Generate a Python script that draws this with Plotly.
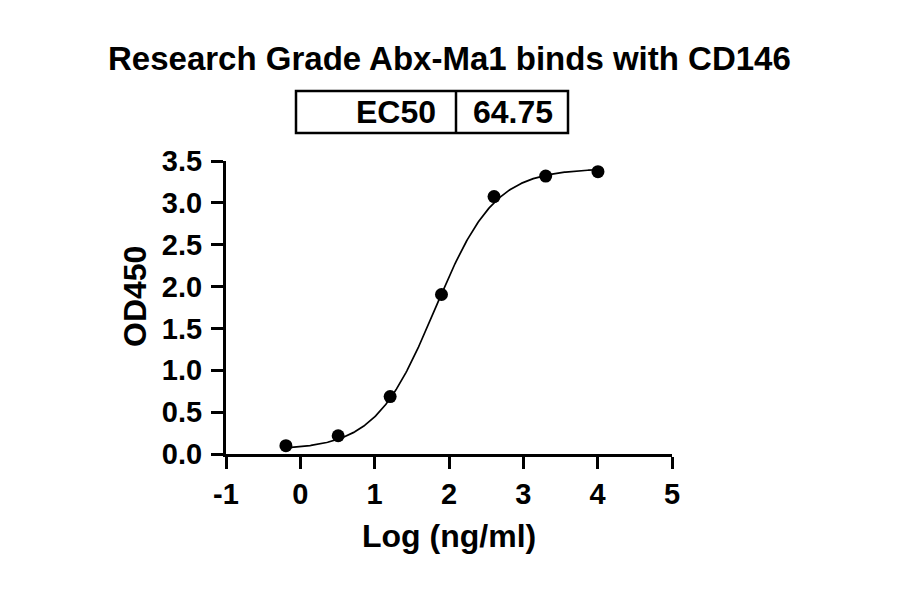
import numpy as np
import plotly.graph_objects as go

# ---- data ----
log_conc = [-0.194, 0.509, 1.208, 1.899, 2.606, 3.301, 4.004]
od450 = [0.099, 0.218, 0.686, 1.905, 3.075, 3.320, 3.373]

# 4PL fit parameters
ec50 = 64.75
fit_bottom = 0.05
fit_top = 3.41
fit_hill = 1.08

x_tickvals = [-1, 0, 1, 2, 3, 4, 5]
x_ticktext = ["-1", "0", "1", "2", "3", "4", "5"]
y_tickvals = [0.0, 0.5, 1.0, 1.5, 2.0, 2.5, 3.0, 3.5]
y_ticktext = ["0.0", "0.5", "1.0", "1.5", "2.0", "2.5", "3.0", "3.5"]

title_text = "Research Grade Abx-Ma1 binds with CD146"
table_label = "EC50"
table_value = "64.75"
x_title = "Log (ng/ml)"
y_title = "OD450"

# ---- fitted curve ----
log_ec50 = np.log10(ec50)
xc = np.linspace(min(log_conc), max(log_conc), 300)
yc = fit_bottom + (fit_top - fit_bottom) / (1 + 10 ** ((log_ec50 - xc) * fit_hill))

FONT = "Liberation Sans, Arial, Helvetica, sans-serif"

# layout geometry (pixels, in reference-image coordinates)
W, H = 900, 594
OFF = 8  # page body offset
L, R, T, B = 226, 672, 161, 454
def px(p):
    return (p - L) / (R - L)
def py(p):
    return (B - p) / (B - T)

fig = go.Figure()
fig.add_trace(go.Scatter(x=xc, y=yc, mode="lines",
                         line=dict(color="black", width=1.7),
                         hoverinfo="skip", showlegend=False))
fig.add_trace(go.Scatter(x=log_conc, y=od450, mode="markers",
                         marker=dict(color="black", size=13),
                         showlegend=False))

axis_common = dict(showline=True, linecolor="black", linewidth=3,
                   ticks="outside", ticklen=12, tickwidth=2.5, tickcolor="black",
                   showgrid=False, zeroline=False,
                   tickfont=dict(family=FONT, size=29, color="black", weight="bold"))

fig.update_xaxes(range=[-1, 5], tickvals=x_tickvals, ticktext=x_ticktext,
                 **axis_common)
fig.update_yaxes(range=[0, 3.5], tickvals=y_tickvals, ticktext=y_ticktext,
                 ticklabelstandoff=3, **axis_common)

annots = [
    dict(text=title_text, x=px(449), y=py(58), xref="paper", yref="paper",
         showarrow=False, xanchor="center", yanchor="middle",
         font=dict(family=FONT, size=33, color="black", weight="bold")),
    dict(text=table_label, x=px(438), y=py(112), xref="paper", yref="paper",
         showarrow=False, xanchor="right", yanchor="middle",
         font=dict(family=FONT, size=32, color="black", weight="bold")),
    dict(text=table_value, x=px(471), y=py(112), xref="paper", yref="paper",
         showarrow=False, xanchor="left", yanchor="middle",
         font=dict(family=FONT, size=32, color="black", weight="bold")),
    dict(text=x_title, x=px(449), y=py(536), xref="paper", yref="paper",
         showarrow=False, xanchor="center", yanchor="middle",
         font=dict(family=FONT, size=32, color="black", weight="bold")),
    dict(text=y_title, x=px(135), y=py(297), xref="paper", yref="paper",
         showarrow=False, xanchor="center", yanchor="middle", textangle=-90,
         font=dict(family=FONT, size=32, color="black", weight="bold")),
]

shapes = [
    dict(type="rect", xref="paper", yref="paper",
         x0=px(296), x1=px(568), y0=py(91), y1=py(133),
         line=dict(color="black", width=2.5)),
    dict(type="line", xref="paper", yref="paper",
         x0=px(456), x1=px(456), y0=py(91), y1=py(133),
         line=dict(color="black", width=2.5)),
]

fig.update_layout(width=W, height=H,
                  margin=dict(l=L - OFF, r=W - R + OFF, t=T - OFF, b=H - B + OFF),
                  paper_bgcolor="white", plot_bgcolor="white",
                  annotations=annots, shapes=shapes, showlegend=False)

fig.write_html("out.html")
